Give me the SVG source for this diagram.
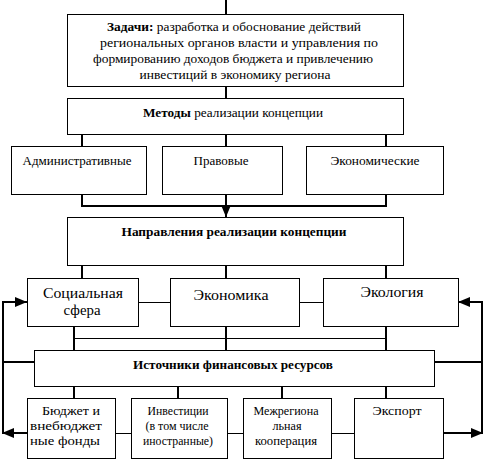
<svg xmlns="http://www.w3.org/2000/svg" width="485" height="461" viewBox="0 0 485 461" font-family="Liberation Serif, Times New Roman, serif">
<style>
.box{fill:#fff;stroke:#000;stroke-width:1}
text{font-family:'Liberation Serif','Times New Roman',serif;font-size:13px;fill:#000;text-anchor:middle}
.b{font-weight:bold}
.big{font-size:15px}
.th{fill:none;stroke:#000;stroke-width:2}
.tn{fill:none;stroke:#000;stroke-width:1}
</style>
<defs>
<marker id="ah" viewBox="0 0 12 10" refX="12" refY="5" markerWidth="12" markerHeight="10" markerUnits="userSpaceOnUse" orient="auto">
<path d="M0,0 L12,5 L0,10 z" fill="#000"/>
</marker>
</defs>
<g id="connectors">
<path class="th" d="M226,0 V14 M226,86 V98"/>
<path class="th" d="M82,134 V146 M226,134 V146 M386,134 V146"/>
<path class="th" d="M82,195 V206 M226,195 V206 M386,195 V206 M81,206 H387"/>
<path class="th" d="M226,206 V217" marker-end="url(#ah)"/>
<path class="th" d="M82,265 V278 M226,265 V278 M386,265 V278"/>
<path class="tn" d="M138,302.5 H170 M299,302.5 H323"/>
<path class="th" d="M74,326 V350 M226,326 V350 M386,326 V350"/>
<path class="tn" d="M74,338.5 H386"/>
<path class="th" d="M3,362 H34 M434,362 H482"/>
<path class="th" d="M3,434 V302 H27" marker-end="url(#ah)"/>
<path class="th" d="M27,433 H2" marker-end="url(#ah)"/>
<path class="th" d="M482,434 V302 H458" marker-end="url(#ah)"/>
<path class="th" d="M443,433 H483" marker-end="url(#ah)"/>
<path class="th" d="M74,386 V398 M178,386 V398 M282,386 V398 M386,386 V398"/>
<path class="tn" d="M115,433.5 H131 M227,433.5 H243 M331,433.5 H354"/>
</g>
<g id="tasks">
<rect class="box" x="67.5" y="14.5" width="336" height="72"/>
<text x="234" y="31" textLength="254" lengthAdjust="spacingAndGlyphs"><tspan class="b">Задачи:</tspan> разработка и обоснование действий</text>
<text x="239" y="47" textLength="278" lengthAdjust="spacingAndGlyphs">региональных органов власти и управления по</text>
<text x="233" y="63" textLength="280" lengthAdjust="spacingAndGlyphs">формированию доходов бюджета и привлечению</text>
<text x="235" y="79" textLength="191" lengthAdjust="spacingAndGlyphs">инвестиций в экономику региона</text>
</g>
<g id="methods">
<rect class="box" x="67.5" y="98.5" width="336" height="36"/>
<text x="233" y="117" textLength="180" lengthAdjust="spacingAndGlyphs"><tspan class="b">Методы</tspan> реализации концепции</text>
</g>
<g id="admin">
<rect class="box" x="11.5" y="146.5" width="135" height="48"/>
<text x="77" y="165" textLength="109" lengthAdjust="spacingAndGlyphs">Административные</text>
</g>
<g id="legal">
<rect class="box" x="162.5" y="146.5" width="120" height="48"/>
<text x="221" y="165" textLength="55" lengthAdjust="spacingAndGlyphs">Правовые</text>
</g>
<g id="econmethods">
<rect class="box" x="306.5" y="146.5" width="137" height="48"/>
<text x="375" y="165" textLength="89" lengthAdjust="spacingAndGlyphs">Экономические</text>
</g>
<g id="directions">
<rect class="box" x="67.5" y="217.5" width="336" height="48"/>
<text class="b" x="234" y="236" font-size="12" textLength="225" lengthAdjust="spacingAndGlyphs">Направления реализации концепции</text>
</g>
<g id="social">
<rect class="box" x="27.5" y="278.5" width="111" height="48"/>
<text class="big" x="83" y="298" textLength="80" lengthAdjust="spacingAndGlyphs">Социальная</text>
<text class="big" x="82" y="315" textLength="37" lengthAdjust="spacingAndGlyphs">сфера</text>
</g>
<g id="economy">
<rect class="box" x="170.5" y="278.5" width="129" height="48"/>
<text class="big" x="231" y="300" textLength="75" lengthAdjust="spacingAndGlyphs">Экономика</text>
</g>
<g id="ecology">
<rect class="box" x="323.5" y="278.5" width="135" height="48"/>
<text class="big" x="392" y="297" textLength="63" lengthAdjust="spacingAndGlyphs">Экология</text>
</g>
<g id="sources">
<rect class="box" x="34.5" y="350.5" width="400" height="36"/>
<text class="b" x="233" y="369" font-size="12" textLength="200" lengthAdjust="spacingAndGlyphs">Источники финансовых ресурсов</text>
</g>
<g id="budget">
<rect class="box" x="27.5" y="398.5" width="88" height="60"/>
<text x="71" y="415" textLength="58" lengthAdjust="spacingAndGlyphs">Бюджет и</text>
<text x="66" y="430" textLength="72" lengthAdjust="spacingAndGlyphs">внебюджет</text>
<text x="65" y="445" textLength="70" lengthAdjust="spacingAndGlyphs">ные фонды</text>
</g>
<g id="invest">
<rect class="box" x="131.5" y="398.5" width="96" height="60"/>
<text x="178" y="415" textLength="61" lengthAdjust="spacingAndGlyphs">Инвестиции</text>
<text x="177" y="430" textLength="63" lengthAdjust="spacingAndGlyphs">(в том числе</text>
<text x="178" y="445" textLength="70" lengthAdjust="spacingAndGlyphs">иностранные)</text>
</g>
<g id="interregional">
<rect class="box" x="243.5" y="398.5" width="88" height="60"/>
<text x="286" y="415" textLength="65" lengthAdjust="spacingAndGlyphs">Межрегиона</text>
<text x="287" y="430" textLength="29" lengthAdjust="spacingAndGlyphs">льная</text>
<text x="286" y="445" textLength="62" lengthAdjust="spacingAndGlyphs">кооперация</text>
</g>
<g id="export">
<rect class="box" x="354.5" y="398.5" width="89" height="60"/>
<text x="397" y="415" textLength="49" lengthAdjust="spacingAndGlyphs">Экспорт</text>
</g>
</svg>
